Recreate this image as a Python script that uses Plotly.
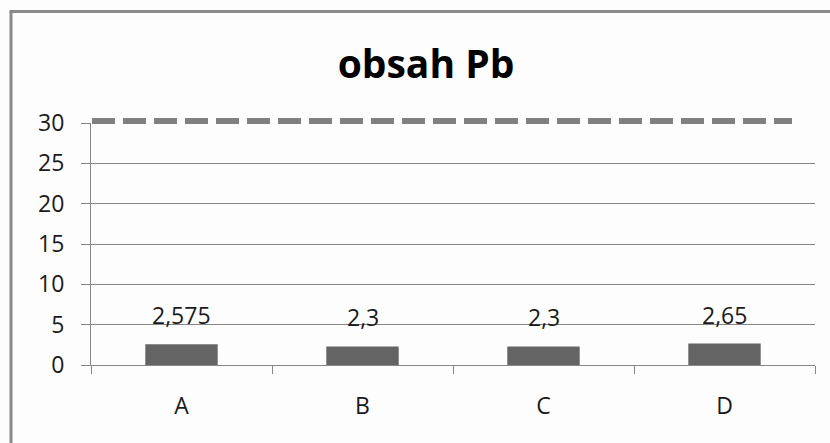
import plotly.graph_objects as go

categories = ["A", "B", "C", "D"]
values = [2.575, 2.3, 2.3, 2.65]
value_labels = ["2,575", "2,3", "2,3", "2,65"]
limit_value = 30
y_max = 30
y_ticks = [0, 5, 10, 15, 20, 25, 30]
title_text = "obsah Pb"

W, H = 830, 443
L, R, T, B = 91, 15, 123, 78
pw, ph = W - L - R, H - T - B

def px_x(p):
    return (p - L) / pw

def px_y(p):
    return (H - B - p) / ph

font_fam = "'Open Sans', Lato, sans-serif"
grid_col = "#878787"
txt_col = "#1a1a1a"

fig = go.Figure()
fig.add_trace(go.Bar(
    x=categories, y=values, width=0.4,
    marker=dict(color="#646464", line=dict(width=0)),
    hoverinfo="skip", showlegend=False,
))

for c, v, t in zip(categories, values, value_labels):
    fig.add_annotation(x=c, y=v, text=t, showarrow=False, yanchor="bottom",
                       yshift=11, font=dict(family=font_fam, size=23, color=txt_col))

# limit dashed line (paper ref so it is not clipped at the top of the plot)
ly = limit_value / y_max + 2 / ph
fig.add_shape(type="line", xref="paper", yref="paper", x0=px_x(92), x1=px_x(792),
              y0=ly, y1=ly,
              line=dict(color="#808080", width=6, dash="23px,8px"))
# outer chart border (left and top)
fig.add_shape(type="line", xref="paper", yref="paper", x0=px_x(11), x1=px_x(11),
              y0=px_y(11.5), y1=px_y(450), line=dict(color="#8a8a8a", width=3))
fig.add_shape(type="line", xref="paper", yref="paper", x0=px_x(9.5), x1=px_x(840),
              y0=px_y(11.5), y1=px_y(11.5), line=dict(color="#8a8a8a", width=3))

fig.update_layout(
    width=W, height=H,
    margin=dict(l=L, r=R, t=T, b=B, pad=0),
    paper_bgcolor="#fdfdfd", plot_bgcolor="#fdfdfd",
    title=dict(text="<b>%s</b>" % title_text, x=426 / W, xanchor="center",
               y=1 - 64 / H, yanchor="middle",
               font=dict(family=font_fam, size=39, color="#000000")),
    bargap=0.6,
)
fig.update_yaxes(range=[0, y_max], tickvals=y_ticks, ticktext=[str(v) for v in y_ticks],
                 showgrid=True, gridcolor=grid_col, gridwidth=1,
                 showline=True, linecolor=grid_col, linewidth=1,
                 ticks="outside", ticklen=9, tickcolor=grid_col, tickwidth=1,
                 ticklabelstandoff=12, zeroline=False,
                 tickfont=dict(family=font_fam, size=23, color=txt_col))
fig.update_xaxes(showgrid=False, showline=True, linecolor=grid_col, linewidth=1,
                 ticks="outside", tickson="boundaries", ticklen=8,
                 tickcolor=grid_col, tickwidth=1, ticklabelstandoff=20,
                 tickfont=dict(family=font_fam, size=23, color=txt_col))

fig.write_html("out.html")
